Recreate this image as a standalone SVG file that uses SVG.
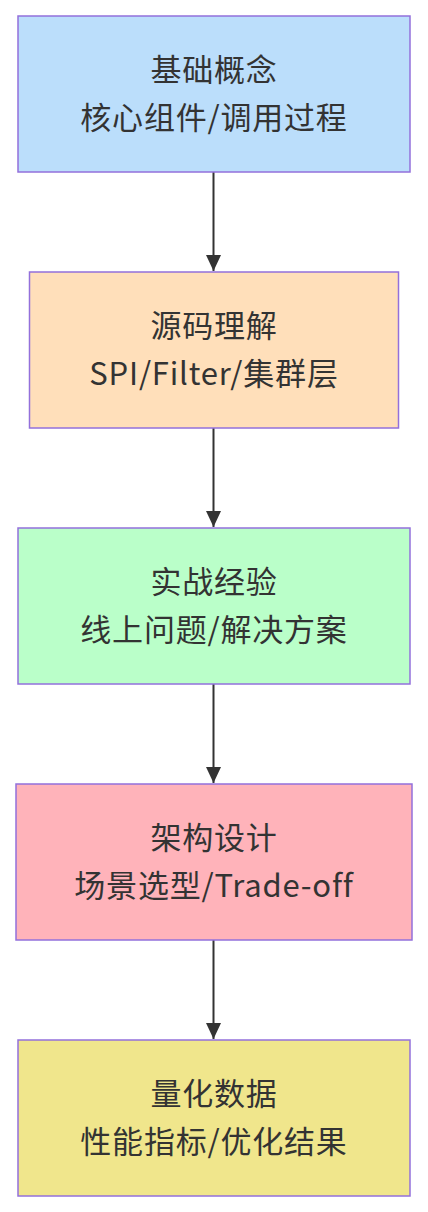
<svg xmlns="http://www.w3.org/2000/svg" width="428" height="1212" viewBox="0 0 428 1212">
<defs>
<style>
.box{stroke:#9370db;stroke-width:1.5}
.t{font-family:"Noto Sans CJK SC","Noto Sans",sans-serif;font-size:31px;letter-spacing:0.8px;fill:#333;text-anchor:middle}
.e{stroke:#333;stroke-width:2;fill:none}
</style>
<marker id="arr" viewBox="0 0 16 15" refX="16" refY="7.5" markerWidth="16" markerHeight="15" markerUnits="userSpaceOnUse" orient="auto">
<path d="M0,0 L16,7.5 L0,15 z" fill="#333"/>
</marker>
</defs>
<rect width="428" height="1212" fill="#fff"/>
<g id="edges">
<line class="e" x1="213.5" y1="172" x2="213.5" y2="271" marker-end="url(#arr)"/>
<line class="e" x1="213.5" y1="428" x2="213.5" y2="527" marker-end="url(#arr)"/>
<line class="e" x1="213.5" y1="684" x2="213.5" y2="783" marker-end="url(#arr)"/>
<line class="e" x1="213.5" y1="940" x2="213.5" y2="1039" marker-end="url(#arr)"/>
</g>
<g id="n1">
<rect class="box" x="18" y="16" width="392" height="156" fill="#bbdefb"/>
<text class="t" x="214" y="81">基础概念</text>
<text class="t" x="214" y="129">核心组件/调用过程</text>
</g>
<g id="n2">
<rect class="box" x="29.5" y="272" width="369" height="156" fill="#ffdfba"/>
<text class="t" x="214" y="337">源码理解</text>
<text class="t" x="214" y="385">SPI/Filter/集群层</text>
</g>
<g id="n3">
<rect class="box" x="18" y="528" width="392" height="156" fill="#baffc9"/>
<text class="t" x="214" y="593">实战经验</text>
<text class="t" x="214" y="641">线上问题/解决方案</text>
</g>
<g id="n4">
<rect class="box" x="16" y="784" width="396" height="156" fill="#ffb3ba"/>
<text class="t" x="214" y="849">架构设计</text>
<text class="t" x="214" y="897">场景选型/Trade-off</text>
</g>
<g id="n5">
<rect class="box" x="18" y="1040" width="392" height="156" fill="#f0e68c"/>
<text class="t" x="214" y="1105">量化数据</text>
<text class="t" x="214" y="1153">性能指标/优化结果</text>
</g>
</svg>
